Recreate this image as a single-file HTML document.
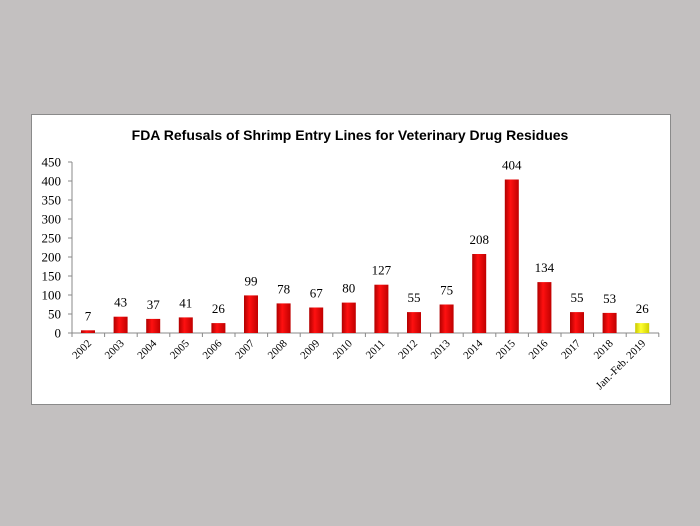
<!DOCTYPE html>
<html><head><meta charset="utf-8"><style>
body{margin:0;background:#c3c0c0;}
svg{display:block}
</style></head><body>
<svg width="700" height="526" xmlns="http://www.w3.org/2000/svg">
<rect width="700" height="526" fill="#c3c0c0"/>
<rect x="31.5" y="114.5" width="639" height="290" fill="#fff" stroke="#8a8a8a" stroke-width="1"/>
<text x="350" y="140" text-anchor="middle" font-family="Liberation Sans, sans-serif" font-weight="bold" font-size="14" fill="#000">FDA Refusals of Shrimp Entry Lines for Veterinary Drug Residues</text>
<defs><linearGradient id="r" x1="0" x2="1"><stop offset="0" stop-color="#b00000"/><stop offset="0.4" stop-color="#ff1010"/><stop offset="1" stop-color="#c00000"/></linearGradient>
<linearGradient id="y" x1="0" x2="1"><stop offset="0" stop-color="#c8c800"/><stop offset="0.4" stop-color="#ffff30"/><stop offset="1" stop-color="#d0d000"/></linearGradient></defs>
<g stroke="#888" stroke-width="1">
<line x1="72" y1="162" x2="72" y2="333"/>
<line x1="72" y1="333" x2="659" y2="333"/>
<line x1="68" y1="333" x2="72" y2="333"/><line x1="68" y1="314" x2="72" y2="314"/><line x1="68" y1="295" x2="72" y2="295"/><line x1="68" y1="276" x2="72" y2="276"/><line x1="68" y1="257" x2="72" y2="257"/><line x1="68" y1="238" x2="72" y2="238"/><line x1="68" y1="219" x2="72" y2="219"/><line x1="68" y1="200" x2="72" y2="200"/><line x1="68" y1="181" x2="72" y2="181"/><line x1="68" y1="162" x2="72" y2="162"/>
<line x1="72" y1="333" x2="72" y2="337"/><line x1="104.6" y1="333" x2="104.6" y2="337"/><line x1="137.2" y1="333" x2="137.2" y2="337"/><line x1="169.8" y1="333" x2="169.8" y2="337"/><line x1="202.4" y1="333" x2="202.4" y2="337"/><line x1="235" y1="333" x2="235" y2="337"/><line x1="267.6" y1="333" x2="267.6" y2="337"/><line x1="300.2" y1="333" x2="300.2" y2="337"/><line x1="332.8" y1="333" x2="332.8" y2="337"/><line x1="365.4" y1="333" x2="365.4" y2="337"/><line x1="398" y1="333" x2="398" y2="337"/><line x1="430.6" y1="333" x2="430.6" y2="337"/><line x1="463.2" y1="333" x2="463.2" y2="337"/><line x1="495.8" y1="333" x2="495.8" y2="337"/><line x1="528.4" y1="333" x2="528.4" y2="337"/><line x1="561" y1="333" x2="561" y2="337"/><line x1="593.6" y1="333" x2="593.6" y2="337"/><line x1="626.2" y1="333" x2="626.2" y2="337"/><line x1="658.8" y1="333" x2="658.8" y2="337"/>
</g>
<g font-family="Liberation Serif, serif" font-size="13" fill="#000" text-anchor="end">
<text x="61" y="337.5">0</text><text x="61" y="318.5">50</text><text x="61" y="299.5">100</text><text x="61" y="280.5">150</text><text x="61" y="261.5">200</text><text x="61" y="242.5">250</text><text x="61" y="223.5">300</text><text x="61" y="204.5">350</text><text x="61" y="185.5">400</text><text x="61" y="166.5">450</text>
</g>
<g fill="url(#r)">
<rect x="81" y="330.3" width="14" height="2.7"/>
<rect x="113.6" y="316.7" width="14" height="16.3"/>
<rect x="146.2" y="318.9" width="14" height="14.1"/>
<rect x="178.8" y="317.4" width="14" height="15.6"/>
<rect x="211.4" y="323.1" width="14" height="9.9"/>
<rect x="244" y="295.4" width="14" height="37.6"/>
<rect x="276.6" y="303.4" width="14" height="29.6"/>
<rect x="309.2" y="307.5" width="14" height="25.5"/>
<rect x="341.8" y="302.6" width="14" height="30.4"/>
<rect x="374.4" y="284.7" width="14" height="48.3"/>
<rect x="407" y="312.1" width="14" height="20.9"/>
<rect x="439.6" y="304.5" width="14" height="28.5"/>
<rect x="472.2" y="254" width="14" height="79"/>
<rect x="504.8" y="179.5" width="14" height="153.5"/>
<rect x="537.4" y="282.1" width="14" height="50.9"/>
<rect x="570" y="312.1" width="14" height="20.9"/>
<rect x="602.6" y="312.9" width="14" height="20.1"/>
</g>
<rect x="635.2" y="323.1" width="14" height="9.9" fill="url(#y)"/>
<g font-family="Liberation Serif, serif" font-size="13" fill="#000" text-anchor="middle">
<text x="88" y="320.3">7</text><text x="120.6" y="306.7">43</text><text x="153.2" y="308.9">37</text><text x="185.8" y="307.4">41</text><text x="218.4" y="313.1">26</text><text x="251" y="285.4">99</text><text x="283.6" y="293.4">78</text><text x="316.2" y="297.5">67</text><text x="348.8" y="292.6">80</text><text x="381.4" y="274.7">127</text><text x="414" y="302.1">55</text><text x="446.6" y="294.5">75</text><text x="479.2" y="244">208</text><text x="511.8" y="169.5">404</text><text x="544.4" y="272.1">134</text><text x="577" y="302.1">55</text><text x="609.6" y="302.9">53</text><text x="642.2" y="313.1">26</text>
</g>
<g font-family="Liberation Serif, serif" font-size="11" fill="#000" text-anchor="end">
<text x="92" y="344" transform="rotate(-45 92 344)">2002</text>
<text x="124.6" y="344" transform="rotate(-45 124.6 344)">2003</text>
<text x="157.2" y="344" transform="rotate(-45 157.2 344)">2004</text>
<text x="189.8" y="344" transform="rotate(-45 189.8 344)">2005</text>
<text x="222.4" y="344" transform="rotate(-45 222.4 344)">2006</text>
<text x="255" y="344" transform="rotate(-45 255 344)">2007</text>
<text x="287.6" y="344" transform="rotate(-45 287.6 344)">2008</text>
<text x="320.2" y="344" transform="rotate(-45 320.2 344)">2009</text>
<text x="352.8" y="344" transform="rotate(-45 352.8 344)">2010</text>
<text x="385.4" y="344" transform="rotate(-45 385.4 344)">2011</text>
<text x="418" y="344" transform="rotate(-45 418 344)">2012</text>
<text x="450.6" y="344" transform="rotate(-45 450.6 344)">2013</text>
<text x="483.2" y="344" transform="rotate(-45 483.2 344)">2014</text>
<text x="515.8" y="344" transform="rotate(-45 515.8 344)">2015</text>
<text x="548.4" y="344" transform="rotate(-45 548.4 344)">2016</text>
<text x="581" y="344" transform="rotate(-45 581 344)">2017</text>
<text x="613.6" y="344" transform="rotate(-45 613.6 344)">2018</text>
<text x="646.2" y="344" transform="rotate(-45 646.2 344)">Jan.-Feb. 2019</text>
</g>
</svg>
</body></html>
